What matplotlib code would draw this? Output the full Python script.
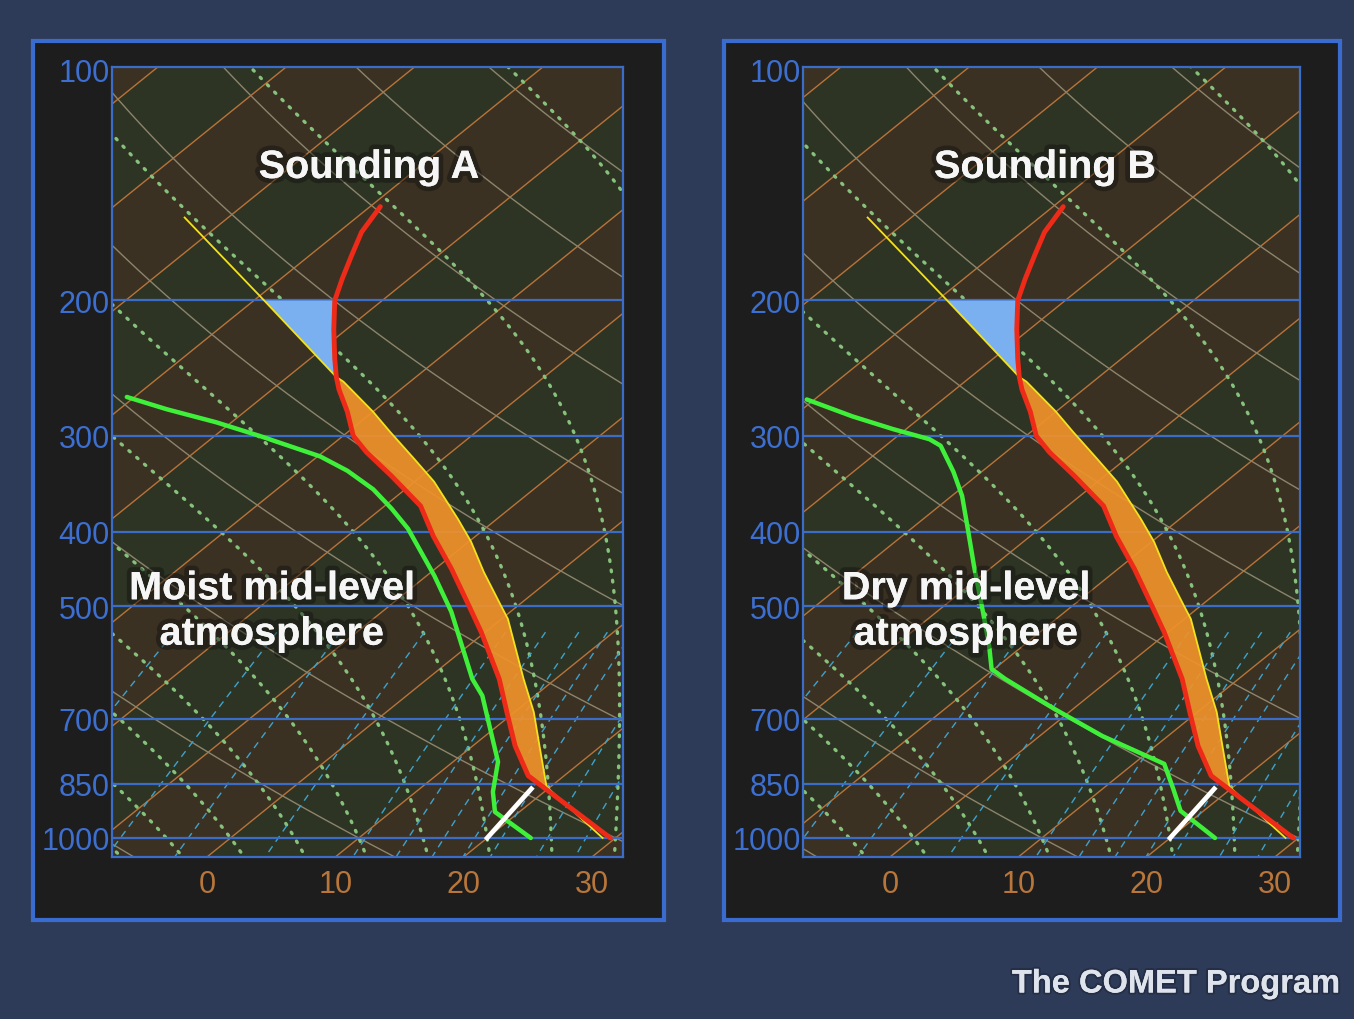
import numpy as np
import matplotlib.pyplot as plt
import matplotlib.patheffects as pe
from matplotlib.patches import Rectangle
from matplotlib.ticker import NullLocator

# environmental temperature (same in both soundings), hPa / degC
temp_p = [1000, 830, 759, 686, 621, 540, 499, 447, 405, 370, 338, 315, 300, 279, 261, 251.5, 238, 218, 200, 187.5, 175, 163, 151]
temp_t = [29.6, 17.2, 13.3, 9.4, 5.6, -0.3, -3.8, -8.7, -13.3, -17.2, -22.4, -26.6, -29.2, -32.0, -34.8, -36.2, -38.1, -41.0, -43.7, -45.2, -46.7, -48.2, -49.2]

# lifted surface parcel
parcel_p = [1000, 858, 759, 686, 621, 519, 499, 451, 412, 385, 344, 321, 296.5, 279, 255, 251.5, 200, 156]
parcel_t = [29.0, 19.7, 15.2, 11.5, 7.5, 0.5, -1.3, -5.9, -9.8, -13.0, -18.5, -22.3, -26.7, -30.0, -35.2, -36.2, -49.2, -63.4]
lcl_p = 858
el_p = 251.5

# dewpoint profiles
dew_a_p = [1000, 925, 871, 796, 721, 653, 621, 508, 456, 396, 373, 352, 333, 319, 300, 288, 277, 267]
dew_a_t = [23.4, 18.1, 16.0, 13.5, 9.7, 5.9, 3.5, -4.6, -9.4, -16.0, -19.2, -22.5, -26.3, -29.8, -36.5, -41.2, -46.3, -50.6]
dew_b_p = [1000, 922, 863, 801, 737, 680, 621, 603, 563, 519, 484, 443, 396, 359, 334, 309, 303, 294, 283, 269]
dew_b_t = [23.5, 18.2, 15.5, 12.4, 4.9, -1.4, -8.2, -10.2, -12.6, -15.6, -18.2, -21.5, -25.6, -29.2, -32.2, -35.7, -37.2, -41.0, -45.4, -50.6]

# surface mixing-ratio line up to the LCL
mix_p = [1000, 863]
mix_t = [20.0, 18.7]

isobars = [200, 300, 400, 500, 700, 850, 1000]
p_labels = [100, 200, 300, 400, 500, 700, 850, 1000]
t_ticks = [0, 10, 20, 30]
isotherms = list(range(-130, 50, 10))
dry_thetas = list(range(-30, 200, 20))
moist_tw = list(range(-10, 40, 5))
mix_ratios = [1, 2, 3, 5, 8, 10, 12, 14, 16, 20, 24]

W, H = 1354, 1020
P_REF, P_TOP = 1058.6, 99.4
K = 32.2

Rd, cp, Lv, eps = 287.04, 1005.7, 2.5e6, 0.622


def skew(t, p):
    return np.asarray(t, float) + K * np.log(P_REF / np.asarray(p, float))


def esat(tc):
    return 6.112 * np.exp(17.67 * tc / (tc + 243.5))


def moist_lapse(t, p):
    tc = t - 273.15
    es = esat(tc)
    rs = eps * es / (p - es)
    return (Rd * t + Lv * rs) / (cp + Lv * Lv * rs * eps / (Rd * t * t))


def moist_line(tw):
    out = []
    for end in (np.log(95), np.log(1070)):
        lnp = np.linspace(np.log(1000), end, 400)
        t = tw + 273.15
        ts = [t]
        for i in range(len(lnp) - 1):
            h = lnp[i + 1] - lnp[i]
            k1 = moist_lapse(t, np.exp(lnp[i]))
            k2 = moist_lapse(t + h * k1, np.exp(lnp[i + 1]))
            t = t + h * (k1 + k2) / 2
            ts.append(t)
        out.append((np.exp(lnp), np.array(ts) - 273.15))
    p = np.concatenate([out[1][0][::-1], out[0][0][1:]])
    t = np.concatenate([out[1][1][::-1], out[0][1][1:]])
    return p, t


def draw_panel(ax, xlim, dew_p, dew_t):
    ax.set_yscale('log')
    ax.set_xlim(*xlim)
    ax.set_ylim(P_REF, P_TOP)
    ax.set_facecolor('#2e3424')

    pp = np.array([P_REF * 1.02, P_TOP * 0.98])
    # stripes between isotherms
    for t0 in isotherms:
        if (t0 // 10) % 2:
            xs = [skew(t0, pp[0]), skew(t0 + 10, pp[0]), skew(t0 + 10, pp[1]), skew(t0, pp[1])]
            ax.fill(xs, [pp[0], pp[0], pp[1], pp[1]], color='#3b3122', lw=0, zorder=0.5)
        ax.plot(skew([t0, t0], pp), pp, color='#b8733a', lw=1.0, zorder=1)

    # dry adiabats
    pl = np.geomspace(P_TOP * 0.95, P_REF * 1.05, 200)
    for th in dry_thetas:
        t = (th + 273.15) * (pl / 1000.0) ** (Rd / cp) - 273.15
        ax.plot(skew(t, pl), pl, color='#8c846c', lw=1.0, zorder=1)

    # saturated adiabats
    for tw in moist_tw:
        p, t = moist_line(tw)
        ax.plot(skew(t, p), p, color='#86c27c', lw=2.4, ls=(0, (0.5, 2.6)),
                dash_capstyle='round', zorder=1)

    # mixing ratio lines
    pm = np.geomspace(540, P_REF * 1.05, 60)
    for w in mix_ratios:
        e = (w / 1000.0) * pm / (eps + w / 1000.0)
        a = np.log(e / 6.112)
        td = 243.5 * a / (17.67 - a)
        ax.plot(skew(td, pm), pm, color='#3fa2cc', lw=1.0, ls=(0, (5, 4)), zorder=1)

    for p in isobars:
        ax.axhline(p, color='#3a6cc8', lw=1.6, zorder=2)

    # positive area between parcel and environment
    pp_ = np.array(parcel_p)
    pt_ = np.array(parcel_t)
    ep_ = np.array(temp_p)
    et_ = np.array(temp_t)
    up = (pp_ <= lcl_p) & (pp_ >= el_p)
    dn = (ep_ <= lcl_p) & (ep_ >= el_p)
    xs = np.concatenate([skew(pt_[up], pp_[up]), skew(et_[dn], ep_[dn])[::-1]])
    ys = np.concatenate([pp_[up], ep_[dn][::-1]])
    ax.fill(xs, ys, color='#f0922a', alpha=0.92, lw=0, zorder=2.5)

    # negative area above the equilibrium level
    up = (pp_ <= el_p) & (pp_ >= 200)
    dn = (ep_ <= el_p) & (ep_ >= 200)
    xs = np.concatenate([skew(pt_[up], pp_[up]), skew(et_[dn], ep_[dn])[::-1]])
    ys = np.concatenate([pp_[up], ep_[dn][::-1]])
    ax.fill(xs, ys, color='#7ab0f0', lw=0, zorder=2.5)

    ax.plot(skew(parcel_t, parcel_p), parcel_p, color='#f2e21c', lw=1.3, zorder=3)
    ax.plot(skew(temp_t, temp_p), temp_p, color='#ee2b18', lw=3.5, zorder=4,
            solid_capstyle='round', solid_joinstyle='round')
    ax.plot(skew(dew_t, dew_p), dew_p, color='#3ff03a', lw=3.2, zorder=4,
            solid_capstyle='round', solid_joinstyle='round')
    ax.plot(skew(mix_t, mix_p), mix_p, color='white', lw=3.4, zorder=4)

    ax.yaxis.set_minor_locator(NullLocator())
    ax.set_yticks(p_labels)
    ax.set_yticklabels([str(v) for v in p_labels])
    ax.set_xticks(t_ticks)
    ax.tick_params(axis='y', length=0, pad=1.5, labelsize=22, labelcolor='#3d6fd0')
    ax.tick_params(axis='x', length=0, pad=9, labelsize=22, labelcolor='#b8763a')
    for lab in ax.get_xticklabels() + ax.get_yticklabels():
        lab.set_fontfamily('Liberation Sans')
    for s in ax.spines.values():
        s.set_color('#3a6cc8')
        s.set_linewidth(1.6)


fig = plt.figure(figsize=(W / 100, H / 100), dpi=100)
fig.patch.set_facecolor('#2e3b58')

for x0, x1 in [(33, 664), (724, 1340)]:
    fig.add_artist(Rectangle((x0 / W, 1 - 921 / H), (x1 - x0) / W, 879 / H,
                             transform=fig.transFigure, facecolor='#1d1d1d',
                             edgecolor='#3a6cd0', lw=3.0, zorder=-5))

ax1 = fig.add_axes([112 / W, 1 - 858 / H, 511 / W, 790 / H])
ax2 = fig.add_axes([803 / W, 1 - 858 / H, 497 / W, 790 / H])
draw_panel(ax1, (-7.40, 32.42), dew_a_p, dew_a_t)
draw_panel(ax2, (-6.78, 31.96), dew_b_p, dew_b_t)

glow = [pe.withStroke(linewidth=7, foreground='#101010', alpha=0.45), pe.Normal()]
big = dict(color='#f6f6f6', fontsize=28.5, fontweight='bold', family='Liberation Sans',
           ha='center', va='center', path_effects=glow, zorder=10)
fig.text(369 / W, 1 - 168 / H, 'Sounding A', **big)
fig.text(1045 / W, 1 - 168 / H, 'Sounding B', **big)
fig.text(272 / W, 1 - 612 / H, 'Moist mid-level\natmosphere', linespacing=1.25, **big)
fig.text(966 / W, 1 - 612 / H, 'Dry mid-level\natmosphere', linespacing=1.25, **big)
fig.text(1340 / W, 1 - 985 / H, 'The COMET Program', color='#dfe3ec', fontsize=23.5,
         fontweight='bold', family='Liberation Sans', ha='right', va='center',
         path_effects=[pe.withStroke(linewidth=3, foreground='#1c2538', alpha=0.5), pe.Normal()])

fig.savefig('out.png', dpi=100, facecolor=fig.get_facecolor())
